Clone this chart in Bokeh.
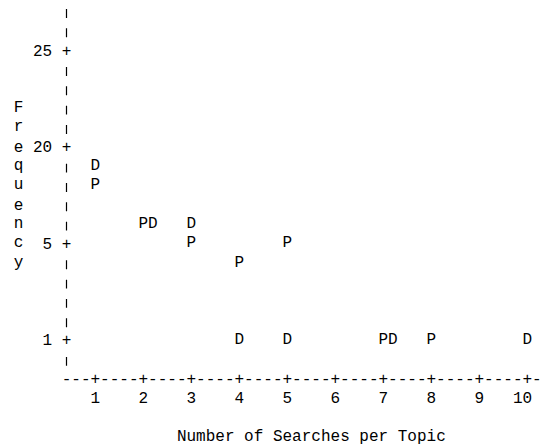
import numpy as np
from bokeh.plotting import figure
from bokeh.models import Range1d, ColumnDataSource
from bokeh.embed import file_html
from bokeh.resources import INLINE
from bokeh.core.properties import value

# ---- data ----
x_ticks = [1, 2, 3, 4, 5, 6, 7, 8, 9, 10]
x_tick_labels = ["1", "2", "3", "4", "5", "6", "7", "8", "9", "10"]
y_ticks = [25, 20, 5, 1]
y_tick_labels = ["25", "20", "5", "1"]
x_title = "Number of Searches per Topic"
y_title = "Frequency"

d_searches = [1, 2, 3, 4, 5, 7, 10]
d_freq = [17, 8, 8, 1, 1, 1, 1]
p_searches = [1, 2, 3, 4, 5, 7, 8]
p_freq = [14, 8, 5, 4.2, 5, 1, 1]

# ---- character-grid plot geometry ----
FONT = value("Liberation Mono")
FSIZE = "16px"
COL = 0.2            # one character column in x data units (5 columns per unit)
ROW_PX = 19.33       # line height in px

# y scale of the line-printer plot: tick values sit 5 lines apart
tick_sorted = sorted(y_ticks)
row_of_tick = {t: 5 * i for i, t in enumerate(sorted(y_ticks, reverse=True))}
def yrow(f):
    return np.interp(f, tick_sorted, [row_of_tick[t] for t in tick_sorted])

W, H = 543, 448
x0_px = 46.8   # px position of x = 0
y0_px = 49.5   # px baseline of row 0
x_start = -x0_px / 48.0
x_end = x_start + W / 48.0
y_top = -y0_px / ROW_PX
y_bottom = (H - y0_px) / ROW_PX

p = figure(width=W, height=H, output_backend="svg", toolbar_location=None,
           x_range=Range1d(x_start, x_end), y_range=Range1d(y_bottom, y_top),
           min_border=0)
p.axis.visible = False
p.grid.visible = False
p.outline_line_color = None
p.background_fill_color = "white"
p.border_fill_color = "white"

def txt(xs, ys, texts, align="center", x_offset=0):
    src = ColumnDataSource(dict(x=list(xs), y=list(ys), t=list(texts)))
    p.text(x="x", y="y", text="t", source=src, text_font=FONT,
           text_font_size=FSIZE, text_color="black", text_align=align,
           text_baseline="alphabetic", x_offset=x_offset)

axis_x = x_ticks[0] - 3 * COL
last_row = max(row_of_tick.values())
axis_row = last_row + 2

# vertical axis: "+" at tick lines, short bars on the other lines
rows = list(range(-2, last_row + 2))
tick_rows = set(row_of_tick.values())
txt([axis_x] * len(tick_rows), sorted(tick_rows), ["+"] * len(tick_rows))
bar_rows = [r for r in rows if r not in tick_rows]
BAR_C, BAR_H = 0.11, 0.23
p.segment(x0=[axis_x] * len(bar_rows), x1=[axis_x] * len(bar_rows),
          y0=[r + BAR_C - BAR_H for r in bar_rows],
          y1=[r + BAR_C + BAR_H for r in bar_rows],
          line_color="black", line_width=1.2)
# y tick labels
txt([axis_x - 1.5 * COL] * len(y_ticks), [row_of_tick[t] for t in y_ticks],
    y_tick_labels, align="right")
# y title (stacked letters)
mid = (rows[0] + rows[-1]) / 2
start_row = int(round(mid - (len(y_title) - 1) / 2))
txt([axis_x - 5 * COL] * len(y_title), [start_row + i for i in range(len(y_title))],
    list(y_title))

# horizontal axis
ncols = int(round((x_ticks[-1] - axis_x) / COL)) + 2
cols = [axis_x + k * COL for k in range(ncols)]
txt(cols, [axis_row] * ncols, ["+" if k % 5 == 3 else "-" for k in range(ncols)])
# x tick labels
txt([t + 0.5 * COL for t in x_ticks], [axis_row + 1] * len(x_ticks), x_tick_labels,
    align="right")
# x title
txt([axis_x + 12 * COL - 0.5 * COL], [axis_row + 3], [x_title], align="left")

# points
p_rows = [float(yrow(f)) for f in p_freq]
d_rows = [float(yrow(f)) for f in d_freq]
p_pos = set(zip(p_searches, [round(r, 3) for r in p_rows]))
d_x = [s + COL if (s, round(r, 3)) in p_pos else s for s, r in zip(d_searches, d_rows)]
txt(p_searches, p_rows, ["P"] * len(p_searches))
txt(d_x, d_rows, ["D"] * len(d_searches))

open("out.html", "w").write(file_html(p, INLINE))
